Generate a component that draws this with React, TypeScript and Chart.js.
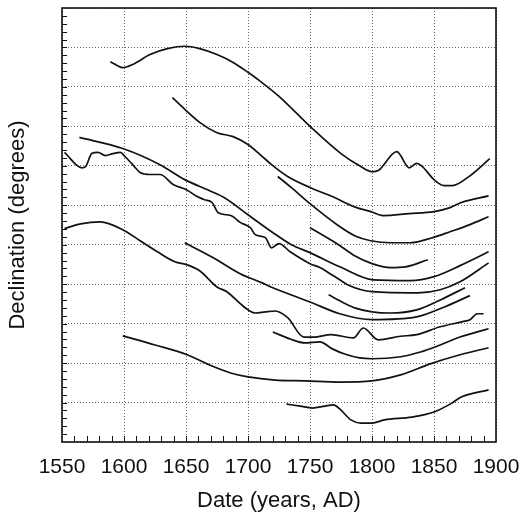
import React, { useEffect, useRef } from "react";
import { Chart, registerables } from "chart.js";

Chart.register(...registerables);

// ---- Data (years AD, declination in plot units) ----
const xTickLabels = [1550, 1600, 1650, 1700, 1750, 1800, 1850, 1900];

const c1Years = [1589, 1599, 1607, 1621, 1635, 1649, 1661, 1675, 1688, 1700, 1710, 1725, 1750, 1775, 1790, 1800, 1805, 1820, 1830, 1836, 1840, 1850, 1858, 1865, 1877, 1895];
const c1Vals = [9.64, 9.49, 9.57, 9.82, 9.97, 10.03, 9.97, 9.82, 9.62, 9.37, 9.14, 8.76, 8.0, 7.31, 7.0, 6.85, 6.88, 7.36, 6.95, 7.06, 7.0, 6.65, 6.5, 6.5, 6.7, 7.18];

const c2Years = [1639, 1661, 1675, 1688, 1700, 1710, 1719, 1732, 1750, 1768, 1786, 1799, 1809, 1830, 1850, 1863, 1872, 1894];
const c2Vals = [8.73, 8.1, 7.84, 7.74, 7.54, 7.28, 7.03, 6.73, 6.45, 6.22, 5.96, 5.84, 5.74, 5.79, 5.84, 5.94, 6.07, 6.24];

const c3Years = [1724, 1736, 1750, 1773, 1786, 1799, 1815, 1831, 1849, 1863, 1879, 1894];
const c3Vals = [6.73, 6.42, 6.04, 5.48, 5.23, 5.1, 5.05, 5.05, 5.18, 5.33, 5.51, 5.71];

const c4Years = [1564, 1599, 1629, 1649, 1669, 1681, 1700, 1719, 1735, 1750, 1774, 1801, 1831, 1850, 1871, 1894];
const c4Vals = [7.72, 7.44, 7.03, 6.65, 6.37, 6.19, 5.76, 5.33, 5.0, 4.8, 4.44, 4.11, 4.09, 4.19, 4.47, 4.82];

const c5Years = [1750, 1773, 1786, 1800, 1815, 1827, 1845];
const c5Vals = [5.43, 5.0, 4.72, 4.52, 4.42, 4.44, 4.62];

const c7Years = [1552, 1566, 1569, 1574, 1579, 1585, 1591, 1597, 1601, 1607, 1613, 1621, 1629, 1640, 1650, 1659, 1665, 1671, 1676, 1686, 1694, 1702, 1706, 1714, 1719, 1725, 1734, 1750, 1758, 1764, 1774, 1782, 1800, 1837, 1855, 1871, 1894];
const c7Vals = [7.34, 6.95, 6.98, 7.31, 7.34, 7.26, 7.31, 7.34, 7.23, 7.03, 6.83, 6.78, 6.78, 6.52, 6.4, 6.22, 6.14, 6.07, 5.81, 5.74, 5.56, 5.43, 5.25, 5.18, 4.92, 5.03, 4.82, 4.52, 4.42, 4.31, 4.11, 3.96, 3.81, 3.78, 3.86, 4.06, 4.54];

const c8Years = [1649, 1672, 1694, 1711, 1720, 1750, 1774, 1800, 1836, 1859, 1879];
const c8Vals = [5.05, 4.67, 4.26, 4.04, 3.91, 3.55, 3.25, 3.1, 3.17, 3.43, 3.71];

const c9Years = [1765, 1777, 1786, 1800, 1815, 1836, 1855, 1875];
const c9Vals = [3.73, 3.53, 3.4, 3.3, 3.27, 3.35, 3.6, 3.91];

const c10Years = [1552, 1565, 1581, 1599, 1613, 1627, 1641, 1651, 1661, 1675, 1683, 1694, 1700, 1706, 1714, 1722, 1732, 1745, 1753, 1767, 1785, 1793, 1805, 1823, 1836, 1855, 1873, 1879, 1885, 1890];
const c10Vals = [5.41, 5.53, 5.58, 5.38, 5.1, 4.82, 4.57, 4.49, 4.34, 3.93, 3.81, 3.5, 3.35, 3.27, 3.3, 3.32, 3.15, 2.66, 2.66, 2.72, 2.64, 2.89, 2.59, 2.68, 2.72, 2.92, 3.05, 3.1, 3.25, 3.25];

const c11Years = [1720, 1734, 1746, 1758, 1768, 1778, 1790, 1800, 1823, 1839, 1855, 1871, 1894];
const c11Vals = [2.79, 2.61, 2.51, 2.54, 2.36, 2.23, 2.13, 2.11, 2.16, 2.28, 2.46, 2.66, 2.87];

const c12Years = [1599, 1625, 1651, 1669, 1686, 1700, 1722, 1746, 1774, 1800, 1823, 1847, 1871, 1894];
const c12Vals = [2.69, 2.46, 2.21, 1.95, 1.75, 1.65, 1.57, 1.55, 1.52, 1.55, 1.7, 1.98, 2.21, 2.39];

const c13Years = [1731, 1742, 1752, 1762, 1769, 1774, 1783, 1791, 1800, 1810, 1832, 1850, 1863, 1872, 1894];
const c13Vals = [0.96, 0.91, 0.86, 0.91, 0.94, 0.84, 0.56, 0.48, 0.48, 0.56, 0.63, 0.76, 0.96, 1.14, 1.32];

const curves: [number[], number[]][] = [
  [c1Years, c1Vals],
  [c2Years, c2Vals],
  [c3Years, c3Vals],
  [c4Years, c4Vals],
  [c5Years, c5Vals],
  [c7Years, c7Vals],
  [c8Years, c8Vals],
  [c9Years, c9Vals],
  [c10Years, c10Vals],
  [c11Years, c11Vals],
  [c12Years, c12Vals],
  [c13Years, c13Vals],
];

const FONT = "'Liberation Sans', Arial, Helvetica, sans-serif";

const framePlugin = {
  id: "frameAndMinorTicks",
  afterDraw(chart: any) {
    const { ctx, chartArea } = chart;
    const { left, right, top, bottom } = chartArea;
    const xs = chart.scales.x;
    const ys = chart.scales.y;
    ctx.save();
    ctx.strokeStyle = "#111";
    ctx.lineWidth = 1;
    ctx.beginPath();
    for (let yr = xs.min + 10; yr < xs.max; yr += 10) {
      const px = Math.round(xs.getPixelForValue(yr)) + 0.5;
      ctx.moveTo(px, bottom);
      ctx.lineTo(px, bottom - 6);
    }
    const steps = Math.round((ys.max - ys.min) / 0.2);
    for (let i = 1; i < steps; i++) {
      const v = ys.min + i * 0.2;
      const py = Math.round(ys.getPixelForValue(v)) + 0.5;
      ctx.moveTo(left, py);
      ctx.lineTo(left + 5, py);
    }
    ctx.stroke();
    ctx.lineWidth = 1.6;
    ctx.strokeRect(left, top, right - left, bottom - top);
    ctx.restore();
  },
};

export default function App() {
  const ref = useRef<HTMLCanvasElement | null>(null);
  useEffect(() => {
    if (!ref.current) return;
    const datasets = curves.map(([xs, ys]) => ({
      data: xs.map((x, i) => ({ x, y: ys[i] })),
      borderColor: "#111",
      borderWidth: 1.7,
      pointRadius: 0,
      fill: false,
      cubicInterpolationMode: "monotone" as const,
    }));
    const chart = new Chart(ref.current, {
      type: "line",
      data: { datasets },
      options: {
        animation: false,
        responsive: false,
        devicePixelRatio: 1,
        layout: { padding: { top: 8, right: 26, left: 0, bottom: 0 } },
        plugins: { legend: { display: false }, tooltip: { enabled: false } },
        scales: {
          x: {
            type: "linear",
            min: 1550,
            max: 1900,
            afterFit: (s: any) => {
              s.height = 72;
              s.paddingLeft = 0;
              s.paddingRight = 0;
            },
            ticks: {
              stepSize: 50,
              padding: 13,
              color: "#111",
              font: { family: FONT, size: 21 },
              callback: (v: any) => (xTickLabels.includes(Number(v)) ? String(v) : ""),
            },
            grid: { color: "#666", lineWidth: 1, drawTicks: false },
            border: { display: false, dash: [1, 2] },
            title: {
              display: true,
              text: "Date (years, AD)",
              color: "#111",
              font: { family: FONT, size: 22 },
              padding: { top: 0, bottom: 0 },
            },
          },
          y: {
            type: "linear",
            min: 0,
            max: 11,
            afterFit: (s: any) => {
              s.width = 62;
            },
            ticks: { stepSize: 1, display: false },
            grid: { color: "#666", lineWidth: 1, drawTicks: false },
            border: { display: false, dash: [1, 2] },
            title: {
              display: true,
              text: "Declination (degrees)",
              color: "#111",
              font: { family: FONT, size: 22 },
              padding: { top: 5, bottom: 0 },
            },
          },
        },
      },
      plugins: [framePlugin],
    });
    return () => chart.destroy();
  }, []);
  return (
    <div style={{ position: "absolute", left: 0, top: 0, width: 522, height: 514, background: "#fff" }}>
      <canvas ref={ref} width={522} height={514} />
    </div>
  );
}
